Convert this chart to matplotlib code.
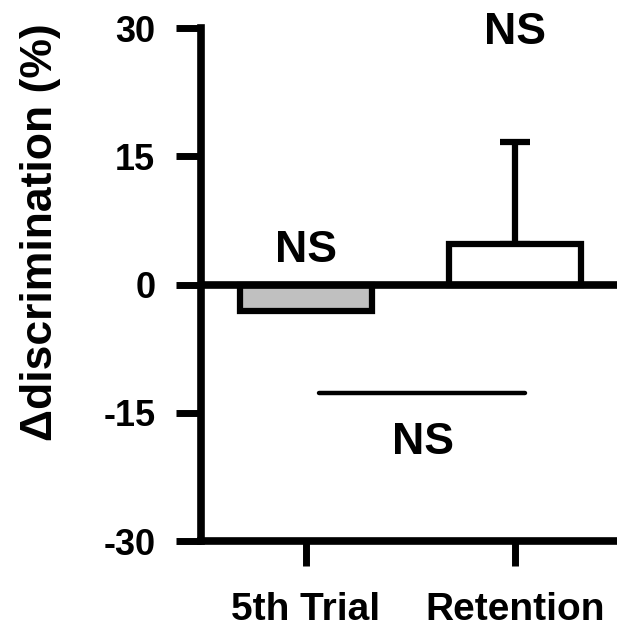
import matplotlib
matplotlib.use("Agg")
import matplotlib.pyplot as plt

plt.rcParams['font.family'] = ['Liberation Sans', 'DejaVu Sans']
plt.rcParams['font.weight'] = 'bold'
plt.rcParams['axes.unicode_minus'] = False

groups = ['5th Trial', 'Retention']
means = [-3.1, 4.7]
err_up = [0.0, 12.0]
fills = ['#c0c0c0', '#ffffff']

yticks = [-30, -15, 0, 15, 30]
ns_marks = [(0.0, 4.0, 'NS'), (1.0, 29.5, 'NS'), (0.56, -18.5, 'NS')]
bracket = (0.06, 1.05, -12.7)

fig = plt.figure(figsize=(6.17, 6.28), dpi=100)
ax = fig.add_axes([0.326, 0.1385, 0.674, 0.8165])

x = list(range(len(groups)))
ax.bar(x, means, width=0.63, color=fills, edgecolor='black', linewidth=4.5, zorder=3)
ax.errorbar(x[1], means[1], yerr=[[0], [err_up[1]]], fmt='none', ecolor='black',
            elinewidth=4.5, capsize=11, capthick=4.5, zorder=2)
ax.axhline(0, color='black', linewidth=5.5, zorder=4, solid_capstyle='butt')

x0, x1, yb = bracket
ax.plot([x0, x1], [yb, yb], color='black', linewidth=3.2, solid_capstyle='round')
for xs, ys, s in ns_marks:
    ax.text(xs, ys, s, ha='center', va='center', fontsize=32, fontweight='bold')

ax.set_xlim(-0.502, 1.488)
ax.set_ylim(-30, 30)
ax.set_yticks(yticks)
ax.set_xticks(x)
ax.set_xticklabels(groups)
ax.set_ylabel('\u0394discrimination (%)', fontsize=32, fontweight='bold')
ax.yaxis.label.set_va('center')
ax.yaxis.set_label_coords(-0.387, 0.602)

for side in ['top', 'right']:
    ax.spines[side].set_visible(False)
for side in ['left', 'bottom']:
    ax.spines[side].set_linewidth(5.5)
ax.tick_params(axis='both', length=18, width=5, direction='out')
ax.tick_params(axis='y', pad=15, labelsize=26)
ax.tick_params(axis='x', pad=19, labelsize=28)

fig.savefig('out.png', dpi=100)
